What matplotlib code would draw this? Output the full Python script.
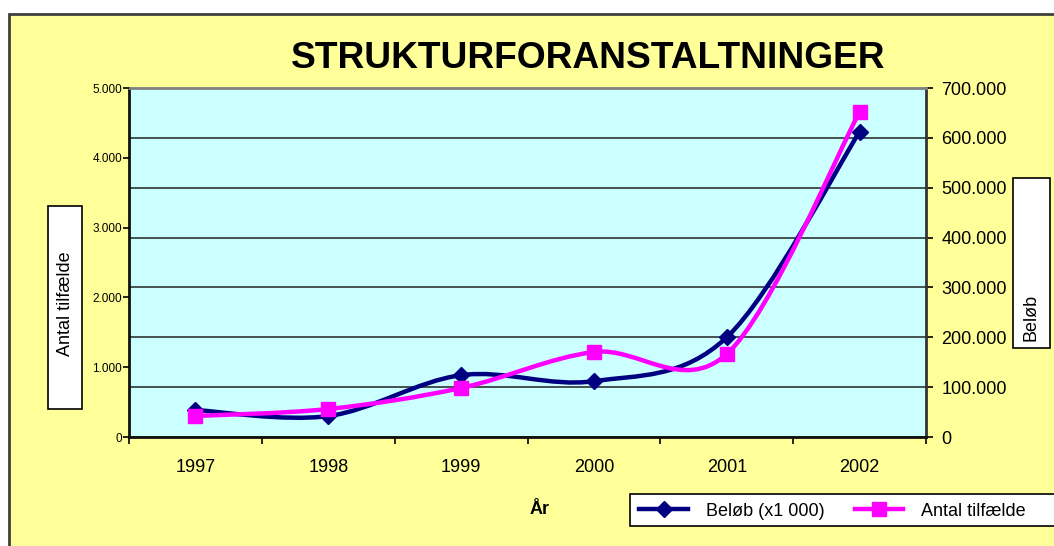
import matplotlib
matplotlib.use("Agg")
import matplotlib.pyplot as plt
from matplotlib.path import Path
from matplotlib.patches import PathPatch, Rectangle
from matplotlib.lines import Line2D
from matplotlib.ticker import FuncFormatter, MultipleLocator, FixedLocator

plt.rcParams['font.family'] = ['Liberation Sans', 'DejaVu Sans']

years = ["1997", "1998", "1999", "2000", "2001", "2002"]
belob = [54000, 42000, 124000, 112000, 200000, 612000]   # right axis (Beløb)
antal = [301, 401, 702, 1218, 1189, 4656]                # left axis (Antal tilfælde)

BG = "#FFFF99"
PLOT_BG = "#CCFFFF"
NAVY = "#000080"
MAGENTA = "#FF00FF"


def smooth_path(xs, ys):
    # Excel-like smoothed line: cubic Bezier segments with Catmull-Rom tangents
    pts = list(zip(xs, ys))
    n = len(pts)
    verts = [pts[0]]
    codes = [Path.MOVETO]
    for i in range(n - 1):
        p0 = pts[i - 1] if i > 0 else pts[i]
        p1 = pts[i]
        p2 = pts[i + 1]
        p3 = pts[i + 2] if i + 2 < n else pts[i + 1]
        c1 = (p1[0] + (p2[0] - p0[0]) / 6, p1[1] + (p2[1] - p0[1]) / 6)
        c2 = (p2[0] - (p3[0] - p1[0]) / 6, p2[1] - (p3[1] - p1[1]) / 6)
        verts += [c1, c2, p2]
        codes += [Path.CURVE4] * 3
    return Path(verts, codes)


def dotted_thousands(v, pos):
    return f"{int(round(v)):,}".replace(",", ".")


def fig_box(x0, y0, x1, y1, **kw):
    # rectangle given in pixel coords from the top-left corner
    r = Rectangle((x0 / 1054, 1 - y1 / 546), (x1 - x0) / 1054, (y1 - y0) / 546,
                  transform=fig.transFigure, **kw)
    fig.patches.append(r)
    return r


fig = plt.figure(figsize=(10.54, 5.46), dpi=100)
fig.patch.set_facecolor("white")
fig_box(9, 14, 1070, 560, facecolor=BG, edgecolor="#404040", linewidth=2, zorder=-10)

ax = fig.add_axes([129 / 1054, (546 - 437) / 546, 797 / 1054, 349 / 546])
ax2 = ax.twinx()
ax.set_facecolor(PLOT_BG)
x = list(range(len(years)))

# right axis: Beløb (primary axes so its grid sits under both lines)
ax.add_patch(PathPatch(smooth_path(x, belob), facecolor="none", edgecolor=NAVY,
                       linewidth=3.2, zorder=3))
ax.plot(x, belob, linestyle="none", marker="D", markersize=8.5, color=NAVY, zorder=4)
ax.set_ylim(0, 700000)
ax.set_xlim(-0.5, 5.5)
ax.yaxis.tick_right()
ax.yaxis.set_major_locator(MultipleLocator(100000))
ax.yaxis.set_major_formatter(FuncFormatter(dotted_thousands))
ax.tick_params(axis="y", which="major", direction="out", length=5, width=1.2,
               pad=6, labelsize=13, colors="black")
ax.grid(axis="y", color="#222222", linewidth=1.1)

ax.xaxis.set_major_locator(FixedLocator([i - 0.5 for i in range(len(years) + 1)]))
ax.xaxis.set_major_formatter(FuncFormatter(lambda v, p: ""))
ax.set_xticks(x, years, minor=True)
ax.tick_params(axis="x", which="major", direction="out", length=5, width=1.2)
ax.tick_params(axis="x", which="minor", length=0, pad=16, labelsize=13)

for side, col in [("left", "#111111"), ("right", "#333333"),
                  ("top", "#808080"), ("bottom", "#111111")]:
    ax.spines[side].set_color(col)
    ax.spines[side].set_linewidth(2)

# left axis: Antal tilfælde
ax2.add_patch(PathPatch(smooth_path(x, antal), facecolor="none", edgecolor=MAGENTA,
                        linewidth=3.2, zorder=3))
ax2.plot(x, antal, linestyle="none", marker="s", markersize=10, color=MAGENTA, zorder=4)
ax2.set_ylim(0, 5000)
ax2.yaxis.tick_left()
ax2.yaxis.set_major_locator(MultipleLocator(1000))
ax2.yaxis.set_major_formatter(FuncFormatter(dotted_thousands))
ax2.tick_params(axis="y", direction="out", length=4, width=1.2, pad=1, labelsize=8.5)
for side in ["left", "right", "top", "bottom"]:
    ax2.spines[side].set_visible(False)

fig.text(588 / 1054, 1 - 58 / 546, "STRUKTURFORANSTALTNINGER", ha="center",
         va="center", fontsize=26.7, fontweight="bold")
fig.text(540 / 1054, 1 - 509 / 546, "År", ha="center", va="center",
         fontsize=13, fontweight="bold")

# axis title boxes
fig_box(48, 206, 82, 409, facecolor="white", edgecolor="black", linewidth=1.2, zorder=1)
fig.text(65 / 1054, 1 - 304 / 546, "Antal tilfælde", rotation=90, ha="center",
         va="center", fontsize=13)
fig_box(1013, 178, 1050, 348, facecolor="white", edgecolor="black", linewidth=1.2, zorder=1)
fig.text(1031 / 1054, 1 - 317 / 546, "Beløb", rotation=90, ha="center",
         va="center", fontsize=13)

# legend frame runs off the right edge, as in the original
fig_box(630, 494, 1075, 526, facecolor="white", edgecolor="black", linewidth=1.2, zorder=1)
handles = [
    Line2D([], [], color=NAVY, linewidth=3.2, marker="D", markersize=8.5),
    Line2D([], [], color=MAGENTA, linewidth=3.2, marker="s", markersize=10),
]
fig.legend(handles, ["Beløb (x1 000)", "Antal tilfælde"], ncol=2,
           loc="lower left", bbox_to_anchor=(633 / 1054, 20 / 546),
           fontsize=13, frameon=False, handlelength=2.7, handletextpad=1.0,
           columnspacing=1.65, borderpad=0.35, borderaxespad=0)

fig.savefig("out.png", dpi=100, facecolor=fig.get_facecolor())
